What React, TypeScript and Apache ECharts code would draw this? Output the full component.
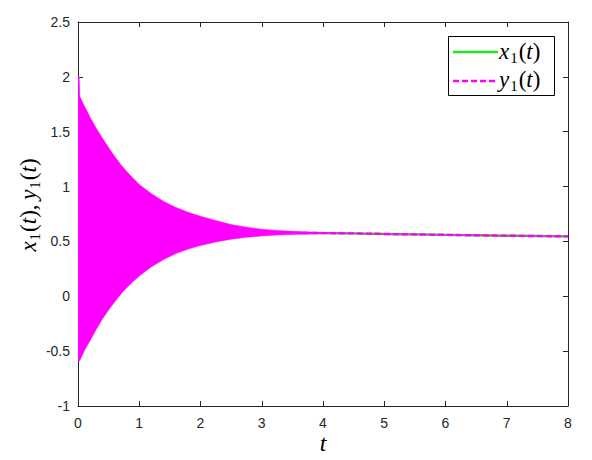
import React, { useEffect, useRef } from "react";
import * as echarts from "echarts";

// Envelope of the densely oscillating trajectories
const tEnv = [0, 0.02, 0.03, 0.1, 0.2, 0.3, 0.4, 0.5, 0.6, 0.7, 0.8, 0.9, 1.0, 1.2, 1.4, 1.6, 1.8, 2.0, 2.25, 2.5, 2.75, 3.0, 3.25, 3.5, 4.0, 4.5, 5, 6, 7, 8];
const upperEnv = [2.0, 2.0, 1.82, 1.74, 1.63, 1.53, 1.44, 1.355, 1.275, 1.2, 1.135, 1.075, 1.02, 0.935, 0.865, 0.81, 0.765, 0.73, 0.69, 0.655, 0.63, 0.612, 0.6, 0.592, 0.582, 0.575, 0.569, 0.561, 0.553, 0.547];
const lowerEnv = [-0.59, -0.59, -0.585, -0.5, -0.4, -0.3, -0.205, -0.125, -0.05, 0.02, 0.08, 0.135, 0.185, 0.27, 0.335, 0.39, 0.43, 0.462, 0.495, 0.52, 0.537, 0.55, 0.558, 0.564, 0.571, 0.571, 0.567, 0.559, 0.551, 0.544];

// Mean trajectory of x1(t) and y1(t)
const tLine = [0, 0.5, 1, 1.5, 2, 2.5, 3, 3.5, 4, 4.5, 5, 5.5, 6, 6.5, 7, 7.5, 8];
const x1Vals = [0.6, 0.62, 0.61, 0.605, 0.6, 0.59, 0.582, 0.578, 0.576, 0.573, 0.568, 0.564, 0.56, 0.556, 0.552, 0.549, 0.546];
const y1Vals = [0.6, 0.62, 0.61, 0.605, 0.6, 0.59, 0.582, 0.578, 0.576, 0.573, 0.568, 0.564, 0.56, 0.556, 0.552, 0.549, 0.546];

const xTicks = { min: 0, max: 8, interval: 1 };
const yTicks = { min: -1, max: 2.5, interval: 0.5 };

const GREEN = "#1ee61e";
const MAGENTA = "#ff00ff";
const AXIS = "#262626";
const MATH_FONT = "'Liberation Serif', 'DejaVu Serif', serif";

function mathRich(size: number, sub: number) {
  return {
    i: { fontFamily: MATH_FONT, fontStyle: "italic", fontSize: size, lineHeight: size + 6, verticalAlign: "middle", color: "#000" },
    n: { fontFamily: MATH_FONT, fontSize: size, lineHeight: size + 6, verticalAlign: "middle", color: "#000" },
    s: { fontFamily: MATH_FONT, fontSize: sub, lineHeight: size + 6, verticalAlign: "bottom", color: "#000", padding: [0, 1, 0, 1] },
  };
}

export default function App() {
  const ref = useRef<HTMLDivElement>(null);
  useEffect(() => {
    if (!ref.current) return;
    const chart = echarts.init(ref.current, null, { renderer: "svg" });
    const axisCommon = {
      type: "value",
      axisLine: { show: true, onZero: false, lineStyle: { color: AXIS, width: 1 } },
      axisTick: { show: true, inside: true, length: 5, lineStyle: { color: AXIS } },
      splitLine: { show: false },
    };
    const labelStyle = { color: AXIS, fontFamily: "'Liberation Sans', Arial, sans-serif", fontSize: 14 };
    chart.setOption({
      animation: false,
      backgroundColor: "#fff",
      grid: { left: 78, right: 24, top: 22, bottom: 54, containLabel: false },
      xAxis: [
        { ...axisCommon, ...xTicks, position: "bottom", axisLabel: { ...labelStyle, margin: 10 } },
        { ...axisCommon, ...xTicks, position: "top", axisLabel: { show: false } },
      ],
      yAxis: [
        { ...axisCommon, ...yTicks, position: "left", axisLabel: { ...labelStyle, margin: 8 } },
        { ...axisCommon, ...yTicks, position: "right", axisLabel: { show: false } },
      ],
      series: [
        {
          type: "line",
          name: "x1",
          data: tLine.map((t, i) => [t, x1Vals[i]]),
          showSymbol: false,
          lineStyle: { color: GREEN, width: 2.4 },
          z: 2,
        },
        {
          type: "line",
          name: "y1",
          data: tLine.map((t, i) => [t, y1Vals[i]]),
          showSymbol: false,
          lineStyle: { color: MAGENTA, width: 2.4, type: [6, 3] },
          z: 3,
        },
        {
          type: "custom",
          name: "envelope",
          xAxisIndex: 0,
          yAxisIndex: 0,
          clip: true,
          z: 4,
          data: [[tEnv[0], upperEnv[0]]],
          renderItem: (params: any, api: any) => {
            const pts: number[][] = [];
            for (let i = 0; i < tEnv.length; i++) pts.push(api.coord([tEnv[i], upperEnv[i]]));
            for (let i = tEnv.length - 1; i >= 0; i--) pts.push(api.coord([tEnv[i], lowerEnv[i]]));
            return { type: "polygon", shape: { points: pts }, style: { fill: MAGENTA, stroke: MAGENTA, lineWidth: 0.5 } };
          },
        },
      ],
      graphic: [
        // legend box
        { type: "rect", left: 448, top: 36, shape: { width: 106, height: 59 }, style: { fill: "#fff", stroke: "#000", lineWidth: 1 }, z: 10 },
        { type: "line", shape: { x1: 453, y1: 52, x2: 498, y2: 52 }, style: { stroke: GREEN, lineWidth: 2.5 }, z: 11 },
        { type: "line", shape: { x1: 453, y1: 81, x2: 498, y2: 81 }, style: { stroke: MAGENTA, lineWidth: 2.5, lineDash: [6, 3] }, z: 11 },
        {
          type: "text", x: 499, y: 51, z: 11,
          style: { text: "{i|x}{s|1}{n|(}{i|t}{n|)}", rich: mathRich(23, 15), verticalAlign: "middle", align: "left" },
        },
        {
          type: "text", x: 499, y: 79, z: 11,
          style: { text: "{i|y}{s|1}{n|(}{i|t}{n|)}", rich: mathRich(23, 15), verticalAlign: "middle", align: "left" },
        },
        // axis titles
        {
          type: "text", x: 323, y: 443, z: 11,
          style: { text: "t", fontFamily: MATH_FONT, fontStyle: "italic", fontSize: 24, fill: "#000", align: "center", verticalAlign: "middle" },
        },
        {
          type: "text", x: 28, y: 205, rotation: Math.PI / 2, z: 11,
          style: { text: "{i|x}{s|1}{n|(}{i|t}{n|),\u2009}{i|y}{s|1}{n|(}{i|t}{n|)}", rich: mathRich(23, 15), align: "center", verticalAlign: "middle" },
        },
      ],
    });
    return () => chart.dispose();
  }, []);
  return <div ref={ref} style={{ position: "fixed", left: 0, top: 0, width: 592, height: 460 }} />;
}
